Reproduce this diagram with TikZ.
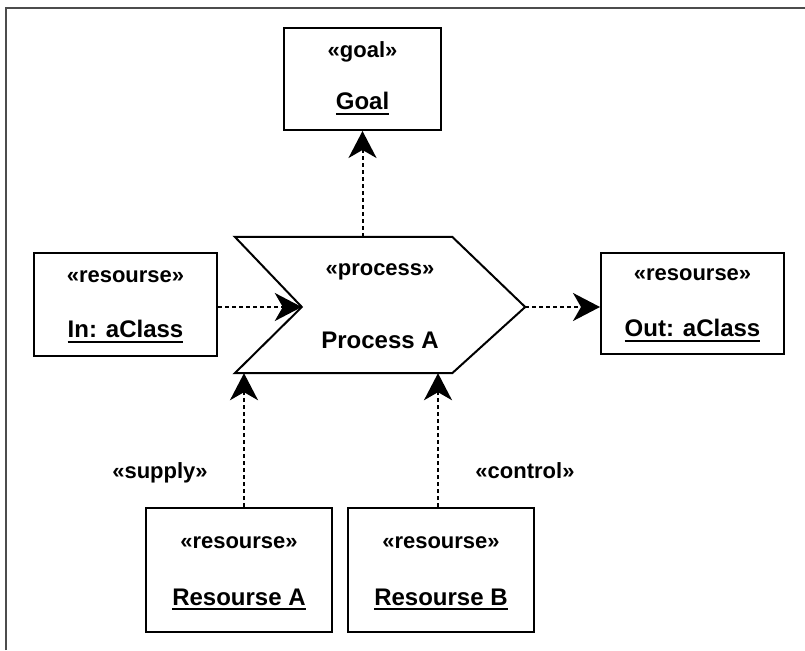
\documentclass[tikz,border=0pt]{standalone}
\usepackage{fontspec}
\setmainfont{Liberation Sans}
\usetikzlibrary{arrows.meta,calc}
\newcommand\ulx[1]{\setbox0\hbox{#1}\leavevmode\rlap{\rule[-5pt]{\wd0}{2pt}}\box0}
\begin{document}
\begin{tikzpicture}[x=1pt,y=-1pt,
  box/.style={draw, line width=2pt, inner sep=0pt, fill=white},
  stereo/.style={anchor=base, font=\fontsize{22}{26}\selectfont\bfseries, inner sep=0pt},
  nm/.style={anchor=base, font=\fontsize{24}{28}\selectfont\bfseries, inner sep=0pt},
  dep/.style={line width=2pt, dash pattern=on 4pt off 3pt,
    -{Stealth[length=27pt,width=28pt,inset=8pt]}},
  frameline/.style={line width=2.5pt, draw=black!70}
]
\useasboundingbox (0,0) rectangle (805,650);
\draw[frameline] (6,650) -- (6,8) -- (805,8);

% boxes
\node[box, minimum width=157pt, minimum height=102pt] (goal) at (362.5,79) {};
\node[box, minimum width=183pt, minimum height=103pt] (inb) at (125.5,304.5) {};
\node[box, minimum width=183pt, minimum height=101pt] (outb) at (692.5,303.5) {};
\node[box, minimum width=186pt, minimum height=124pt] (resa) at (239,570) {};
\node[box, minimum width=186pt, minimum height=124pt] (resb) at (441,570) {};

% process chevron
\node[minimum width=290pt, minimum height=136pt, inner sep=0pt] (proc) at (380,305) {};
\coordinate (pnotch) at ($(proc.west)+(67,2)$);
\coordinate (ptip) at ($(proc.east)+(0,2)$);
\draw[line width=2pt, fill=white] (proc.north west) -- ($(proc.north east)+(-73,0)$) -- (ptip)
  -- ($(proc.south east)+(-73,0)$) -- (proc.south west) -- (pnotch) -- cycle;

% texts
\node[stereo] (goalS) at ($(goal.center)+(0,-21)$) {«goal»};
\node[nm] (goalN) at ($(goal.center)+(0,31)$) {\ulx{Goal}};
\node[stereo] (inS) at ($(inb.center)+(0,-22)$) {«resourse»};
\node[nm] (inN) at ($(inb.center)+(0,33)$) {\ulx{In: aClass}};
\node[stereo] (outS) at ($(outb.center)+(0,-23)$) {«resourse»};
\node[nm] (outN) at ($(outb.center)+(0,33)$) {\ulx{Out: aClass}};
\node[stereo] (resaS) at ($(resa.center)+(0,-22)$) {«resourse»};
\node[nm] (resaN) at ($(resa.center)+(0,35)$) {\ulx{Resourse A}};
\node[stereo] (resbS) at ($(resb.center)+(0,-22)$) {«resourse»};
\node[nm] (resbN) at ($(resb.center)+(0,35)$) {\ulx{Resourse B}};
\node[stereo] (procS) at ($(proc.center)+(0,-30)$) {«process»};
\node[nm] (procN) at ($(proc.center)+(0,43)$) {Process A};
\node[stereo] (supply) at (160,478) {«supply»};
\node[stereo] (control) at (525,478) {«control»};

% connectors
\draw[dep] (goal.south |- proc.north) -- (goal.south);
\draw[dep] (inb.east |- pnotch) -- (pnotch);
\draw[dep] (ptip) -- (ptip -| outb.west);
\draw[dep] ($(resa.north)+(5,0)$) -- ($(resa.north |- proc.south)+(5,0)$);
\draw[dep] ($(resb.north)+(-3,0)$) -- ($(resb.north |- proc.south)+(-3,0)$);
\end{tikzpicture}
\end{document}
